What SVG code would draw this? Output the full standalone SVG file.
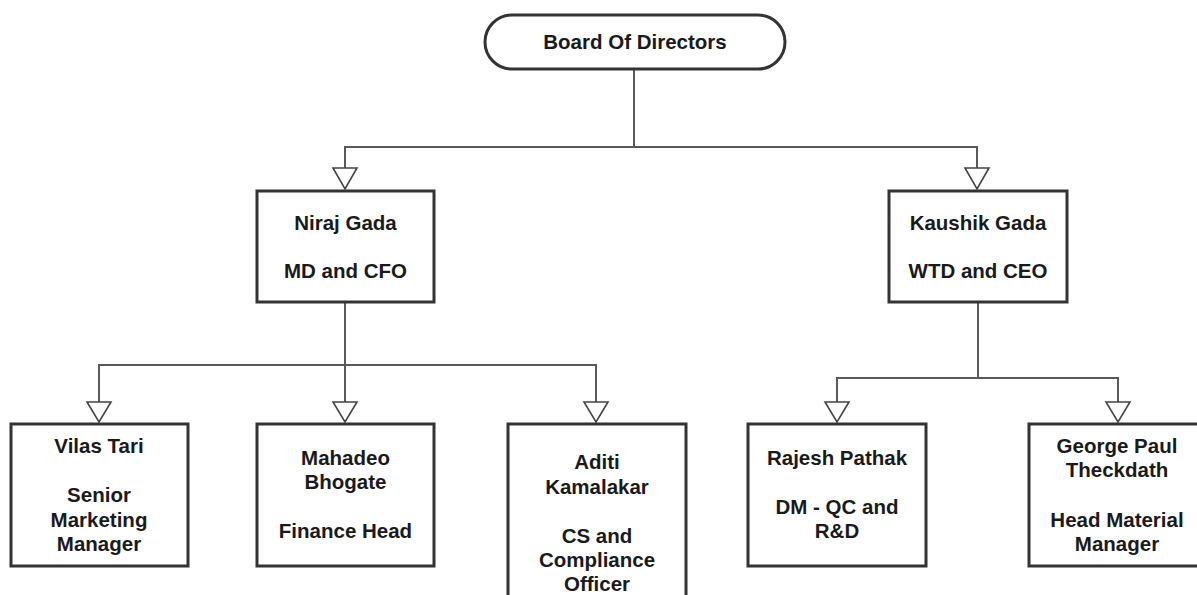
<svg xmlns="http://www.w3.org/2000/svg" width="1197" height="595" viewBox="0 0 1197 595">
  <style>
    .node { fill: #ffffff; stroke: #333333; stroke-width: 3; }
    .conn { fill: none; stroke: #5a5a5a; stroke-width: 2; }
    .arrow { fill: #ffffff; stroke: #444444; stroke-width: 1.6; stroke-linejoin: miter; }
    .lbl { font-family: "Liberation Sans", Arial, Helvetica, sans-serif; font-size: 20.5px; font-weight: bold; fill: #1a1a1a; text-anchor: middle; }
  </style>
  <rect x="0" y="0" width="1197" height="595" fill="#ffffff"/>

  <g id="connectors">
    <polyline class="conn" points="634,69 634,147"/>
    <polyline class="conn" points="345,168 345,147 977,147 977,168"/>
    <polyline class="conn" points="345,302 345,402"/>
    <polyline class="conn" points="99,402 99,365 596,365 596,402"/>
    <polyline class="conn" points="978,302 978,378"/>
    <polyline class="conn" points="837,402 837,378 1118,378 1118,402"/>
    <polygon class="arrow" points="333,168 357,168 345,189"/>
    <polygon class="arrow" points="965,168 989,168 977,189"/>
    <polygon class="arrow" points="87,402 111,402 99,422"/>
    <polygon class="arrow" points="333,402 357,402 345,422"/>
    <polygon class="arrow" points="584,402 608,402 596,422"/>
    <polygon class="arrow" points="825,402 849,402 837,422"/>
    <polygon class="arrow" points="1106,402 1130,402 1118,422"/>
  </g>

  <g id="board">
    <rect class="node" x="485" y="15" width="300" height="54" rx="27" ry="27"/>
    <text class="lbl" x="635" y="49">Board Of Directors</text>
  </g>

  <g id="niraj">
    <rect class="node" x="257" y="191" width="177" height="111"/>
    <text class="lbl" x="345.5" y="230">Niraj Gada</text>
    <text class="lbl" x="345.5" y="278">MD and CFO</text>
  </g>

  <g id="kaushik">
    <rect class="node" x="889" y="191" width="178" height="111"/>
    <text class="lbl" x="978" y="230">Kaushik Gada</text>
    <text class="lbl" x="978" y="278">WTD and CEO</text>
  </g>

  <g id="vilas">
    <rect class="node" x="11" y="424" width="177" height="142"/>
    <text class="lbl" x="99" y="453">Vilas Tari</text>
    <text class="lbl" x="99" y="502">Senior</text>
    <text class="lbl" x="99" y="526.5">Marketing</text>
    <text class="lbl" x="99" y="551">Manager</text>
  </g>

  <g id="mahadeo">
    <rect class="node" x="257" y="424" width="177" height="142"/>
    <text class="lbl" x="345.5" y="465">Mahadeo</text>
    <text class="lbl" x="345.5" y="489">Bhogate</text>
    <text class="lbl" x="345.5" y="538">Finance Head</text>
  </g>

  <g id="aditi">
    <rect class="node" x="508" y="424" width="178" height="185"/>
    <text class="lbl" x="597" y="469">Aditi</text>
    <text class="lbl" x="597" y="494">Kamalakar</text>
    <text class="lbl" x="597" y="543">CS and</text>
    <text class="lbl" x="597" y="567">Compliance</text>
    <text class="lbl" x="597" y="591">Officer</text>
  </g>

  <g id="rajesh">
    <rect class="node" x="748" y="424" width="178" height="142"/>
    <text class="lbl" x="837" y="465">Rajesh Pathak</text>
    <text class="lbl" x="837" y="514">DM - QC and</text>
    <text class="lbl" x="837" y="538">R&amp;D</text>
  </g>

  <g id="george">
    <rect class="node" x="1029" y="424" width="178" height="142"/>
    <text class="lbl" x="1117" y="453">George Paul</text>
    <text class="lbl" x="1117" y="477">Theckdath</text>
    <text class="lbl" x="1117" y="527">Head Material</text>
    <text class="lbl" x="1117" y="551">Manager</text>
  </g>
</svg>
